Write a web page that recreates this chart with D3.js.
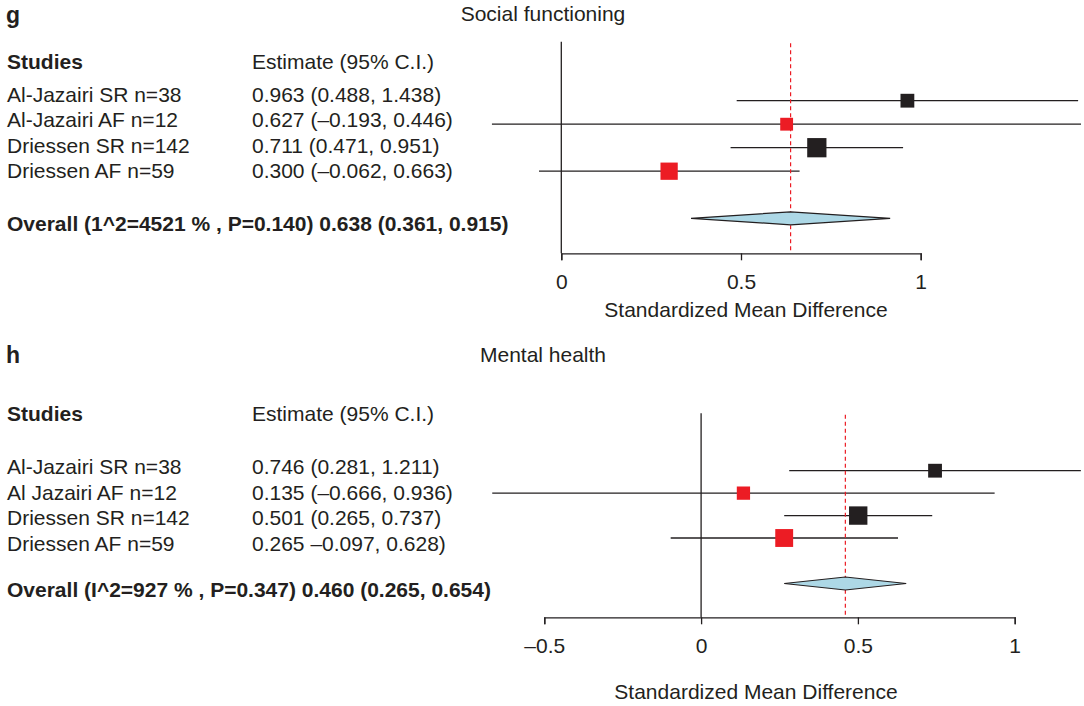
<!DOCTYPE html>
<html>
<head>
<meta charset="utf-8">
<script src="https://cdn.jsdelivr.net/npm/d3@7"></script>
<style>
  html, body { margin: 0; padding: 0; background: #fff; }
  svg text { font-family: "Liberation Sans", Arial, Helvetica, sans-serif; fill: #231f20; }
</style>
</head>
<body>
<svg id="chart" width="1084" height="706"></svg>
<script>
// ---- Panel g: Social functioning ----
const studiesG   = ["Al-Jazairi SR n=38", "Al-Jazairi AF n=12", "Driessen SR n=142", "Driessen AF n=59"];
const groupG     = ["SR", "AF", "SR", "AF"];
const estimateG  = [0.963, 0.627, 0.711, 0.300];
const lowerG     = [0.488, -0.193, 0.471, -0.062];
const upperG     = [1.438, 1.446, 0.951, 0.663];
const weightG    = [18.6, 16.1, 36.2, 29.1];   // relative study weight, %
const ciTextG    = ["0.963 (0.488, 1.438)", "0.627 (–0.193, 0.446)", "0.711 (0.471, 0.951)", "0.300 (–0.062, 0.663)"];
const overallG   = [0.638, 0.361, 0.915];      // estimate, lower, upper
const overallTextG = "Overall (1^2=4521 % , P=0.140) 0.638 (0.361, 0.915)";
const ticksG     = [0, 0.5, 1];

// ---- Panel h: Mental health ----
const studiesH   = ["Al-Jazairi SR n=38", "Al Jazairi AF n=12", "Driessen SR n=142", "Driessen AF n=59"];
const groupH     = ["SR", "AF", "SR", "AF"];
const estimateH  = [0.746, 0.135, 0.501, 0.265];
const lowerH     = [0.281, -0.666, 0.265, -0.097];
const upperH     = [1.211, 0.936, 0.737, 0.628];
const weightH    = [18.6, 17.2, 33.0, 31.2];   // relative study weight, %
const ciTextH    = ["0.746 (0.281, 1.211)", "0.135 (–0.666, 0.936)", "0.501 (0.265, 0.737)", "0.265 –0.097, 0.628)"];
const overallH   = [0.460, 0.265, 0.654];
const overallTextH = "Overall (I^2=927 % , P=0.347) 0.460 (0.265, 0.654)";
const ticksH     = [-0.5, 0, 0.5, 1];

const INK = "#231f20";
const groupColour = d3.scaleOrdinal().domain(["SR", "AF"]).range(["#231f20", "#ec1c24"]);
const boxSize = d3.scaleSqrt().domain([0, 100]).range([0, 32]);
const fmtTick = v => d3.format("")(v).replace("−", "–").replace("-", "–");

const svg = d3.select("#chart");

function drawPanel(p, L) {
  const g = svg.append("g");
  const FS = 21;

  // panel letter and title
  g.append("text").attr("x", 6).attr("y", L.letterY)
    .attr("font-size", 23).attr("font-weight", "bold").text(L.letter);
  g.append("text").attr("x", 543).attr("y", L.titleY)
    .attr("font-size", FS).attr("text-anchor", "middle").text(L.title);

  // column headers
  g.append("text").attr("x", 7).attr("y", L.headY)
    .attr("font-size", FS).attr("font-weight", "bold").text("Studies");
  g.append("text").attr("x", 252).attr("y", L.headY)
    .attr("font-size", FS).text("Estimate (95% C.I.)");

  // text rows
  const yText = d3.scalePoint().domain(p.studies).range(L.textRows);
  g.selectAll("text.study").data(p.studies).join("text")
    .attr("class", "study").attr("x", 7).attr("y", d => yText(d))
    .attr("font-size", FS).text(d => d);
  g.selectAll("text.ci").data(p.ciText).join("text")
    .attr("class", "ci").attr("x", 252).attr("y", (d, i) => yText(p.studies[i]))
    .attr("font-size", FS).text(d => d);
  g.append("text").attr("x", 7).attr("y", L.overallTextY)
    .attr("font-size", FS).attr("font-weight", "bold").text(p.overallText);

  // scales
  const x = d3.scaleLinear().domain(L.domain).range(L.range);
  const y = d3.scalePoint().domain(p.studies).range(L.plotRows);

  // zero line
  g.append("line")
    .attr("x1", x(0)).attr("x2", x(0))
    .attr("y1", L.axisTop).attr("y2", L.axisY)
    .attr("stroke", INK).attr("stroke-width", 1.3);

  // axis
  const axis = d3.axisBottom(x).tickValues(p.ticks).tickFormat(fmtTick)
    .tickSize(7).tickSizeOuter(7).tickPadding(14);
  const ax = g.append("g").attr("transform", `translate(0,${L.axisY})`).call(axis);
  ax.select(".domain").attr("stroke", INK).attr("stroke-width", 1.3);
  ax.selectAll(".tick line").attr("stroke", INK).attr("stroke-width", 1.3);
  ax.selectAll(".tick text").attr("font-size", FS)
    .attr("font-family", "Liberation Sans, Arial, sans-serif").attr("fill", INK);

  g.append("text").attr("x", L.axisTitleX).attr("y", L.axisTitleY)
    .attr("font-size", FS).attr("text-anchor", "middle").text("Standardized Mean Difference");

  // whiskers
  g.selectAll("line.ci").data(p.studies).join("line")
    .attr("class", "ci")
    .attr("x1", (d, i) => x(p.lower[i])).attr("x2", (d, i) => x(p.upper[i]))
    .attr("y1", d => y(d)).attr("y2", d => y(d))
    .attr("stroke", INK).attr("stroke-width", 1.3);

  // pooled estimate line
  g.append("line")
    .attr("x1", x(p.overall[0])).attr("x2", x(p.overall[0]))
    .attr("y1", L.axisTop + 1.5).attr("y2", L.axisY)
    .attr("stroke", "#ec1c24").attr("stroke-width", 1.2)
    .attr("stroke-dasharray", "4,3");

  // study boxes
  g.selectAll("rect.box").data(p.studies).join("rect")
    .attr("class", "box")
    .attr("x", (d, i) => x(p.estimate[i]) - boxSize(p.weight[i]) / 2)
    .attr("y", (d, i) => y(d) - boxSize(p.weight[i]) / 2)
    .attr("width", (d, i) => boxSize(p.weight[i]))
    .attr("height", (d, i) => boxSize(p.weight[i]))
    .attr("fill", (d, i) => groupColour(p.group[i]));

  // pooled diamond
  const [est, lo, hi] = p.overall;
  const h = 6.5, yc = L.diamondY;
  g.append("path")
    .attr("d", d3.line()([[x(lo), yc], [x(est), yc - h], [x(hi), yc], [x(est), yc + h]]) + "Z")
    .attr("fill", "#add8e6").attr("stroke", INK).attr("stroke-width", 1.2);
}

drawPanel(
  { studies: studiesG, group: groupG, estimate: estimateG, lower: lowerG, upper: upperG,
    weight: weightG, ciText: ciTextG, overall: overallG, overallText: overallTextG, ticks: ticksG },
  { letter: "g", title: "Social functioning", letterY: 22.5, titleY: 21, headY: 68.5,
    textRows: [101.7, 178.3], plotRows: [100.7, 171.2], overallTextY: 231, diamondY: 218.3,
    axisTop: 41.7, axisY: 253.3, domain: [0, 1], range: [561.3, 920.7],
    axisTitleX: 746, axisTitleY: 316.5 }
);

drawPanel(
  { studies: studiesH, group: groupH, estimate: estimateH, lower: lowerH, upper: upperH,
    weight: weightH, ciText: ciTextH, overall: overallH, overallText: overallTextH, ticks: ticksH },
  { letter: "h", title: "Mental health", letterY: 363, titleY: 361.7, headY: 421,
    textRows: [474, 550.7], plotRows: [470.7, 538], overallTextY: 597, diamondY: 583.5,
    axisTop: 413.3, axisY: 617.3, domain: [-0.5, 1], range: [544.3, 1014.7],
    axisTitleX: 756, axisTitleY: 699 }
);
</script>
</body>
</html>
